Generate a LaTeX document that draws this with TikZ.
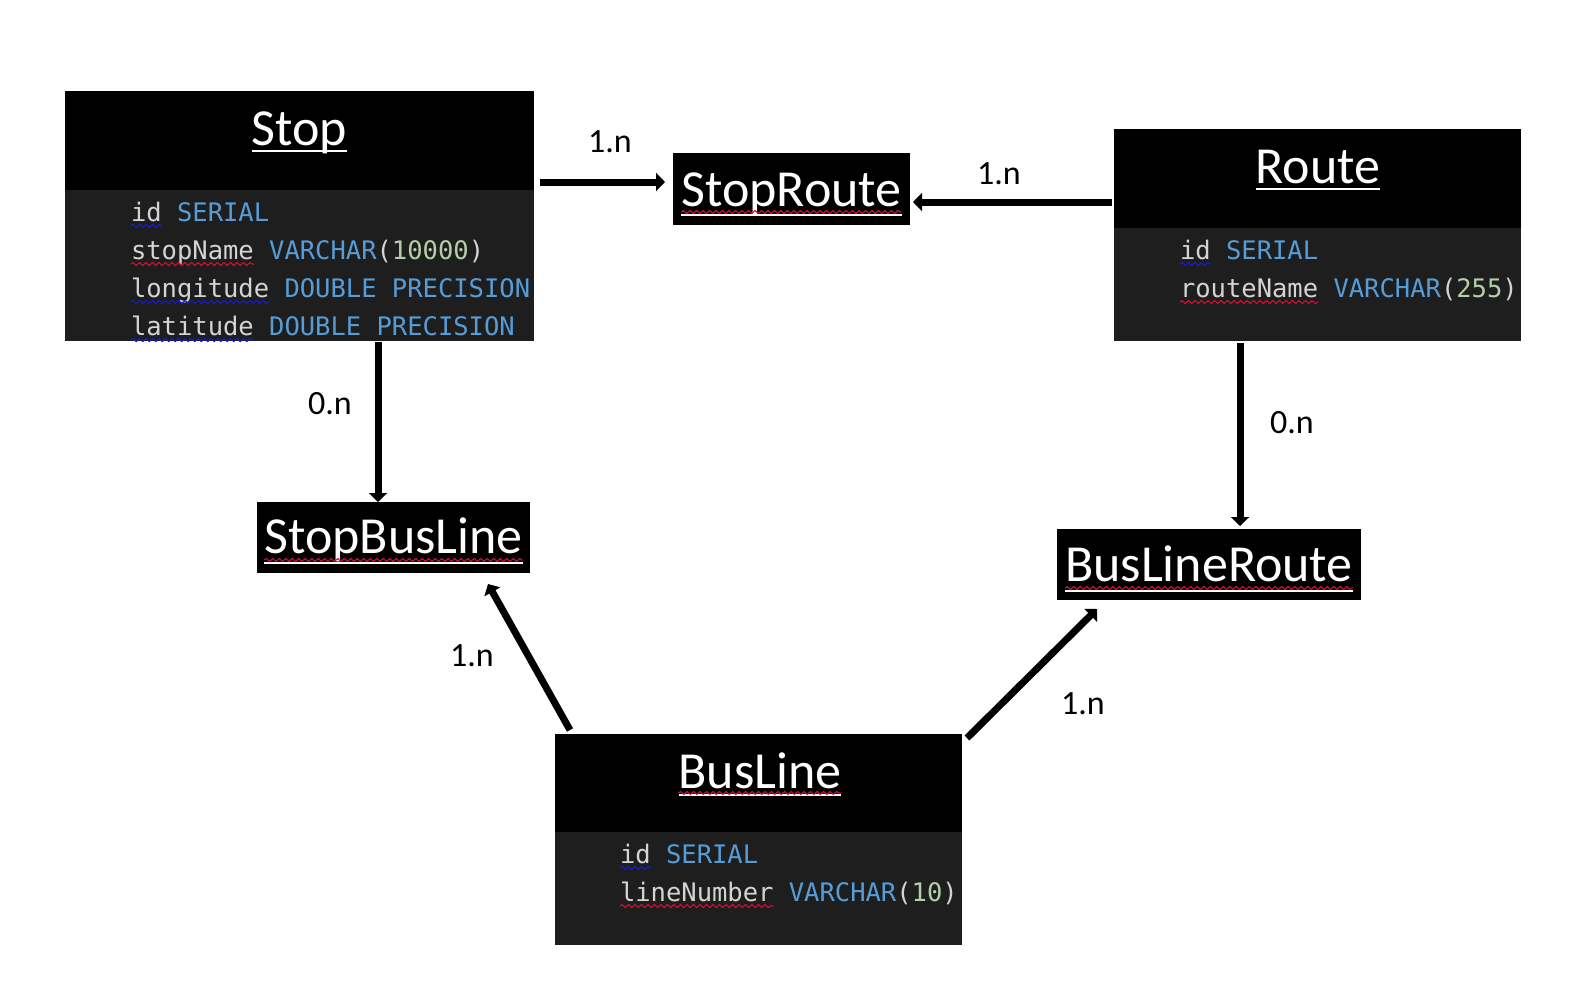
\documentclass[tikz,border=0pt]{standalone}
\usepackage{fontspec}
\setmainfont{Carlito}
\newfontfamily\monof{DejaVu Sans Mono}
\usetikzlibrary{arrows.meta,decorations.pathmorphing}
\definecolor{bodygray}{HTML}{1E1E1E}
\definecolor{fg}{HTML}{D4D4D4}
\definecolor{kw}{HTML}{569CD6}
\definecolor{num}{HTML}{B5CEA8}
\definecolor{sqblue}{HTML}{1A1AD0}
\definecolor{sqred}{HTML}{D0103A}
\tikzset{
  box/.style={fill=black, inner sep=0pt, outer sep=0pt},
  bodybox/.style={fill=bodygray, inner sep=0pt, outer sep=0pt},
  titletext/.style={anchor=base, inner sep=0pt, outer sep=0pt, text=white, font=\fontsize{52}{60}\selectfont},
  fname/.style={anchor=base west, inner sep=0pt, outer sep=0pt, text=fg, font=\monof\fontsize{25.5}{30}\selectfont},
  ftype/.style={fname, text=kw},
  sqb/.style={draw=sqblue, line width=1.1pt, decorate, decoration={snake, amplitude=1.5pt, segment length=6.5pt}},
  sqr/.style={draw=sqred, line width=1.1pt, decorate, decoration={snake, amplitude=1.5pt, segment length=6.5pt}},
  uline/.style={draw=white, line width=2.5pt},
  conn/.style={line width=7pt, -{Triangle[length=9pt,width=18pt]}},
  lbl/.style={inner sep=0pt, font=\fontsize{34}{40}\selectfont},
}
\begin{document}
\begin{tikzpicture}[x=1pt,y=-1pt]
\fill[white] (0,0) rectangle (1570,980);
\useasboundingbox (0,0) rectangle (1570,980);

% ---- Stop ----
\node[box, minimum width=469pt, minimum height=99pt] (stophead) at (299.5,140.5) {};
\node[bodybox, minimum width=469pt, minimum height=151pt] (stopbody) at (299.5,265.5) {};
\node[titletext] (stopt) at (299.5,145) {Stop};
\draw[uline] ([yshift=-6pt]stopt.base west) -- ([yshift=-6pt]stopt.base east);
\node[fname] (sf1) at (131,221) {id};
\node[ftype] at (sf1.base east) {\ SERIAL};
\node[fname] (sf2) at (131,259) {stopName};
\node[ftype] at (sf2.base east) {\ VARCHAR\textcolor{fg}{(}\textcolor{num}{10000}\textcolor{fg}{)}};
\node[fname] (sf3) at (131,297) {longitude};
\node[ftype] at (sf3.base east) {\ DOUBLE PRECISION};
\node[fname] (sf4) at (131,335) {latitude};
\node[ftype] at (sf4.base east) {\ DOUBLE PRECISION};
\draw[sqb] ([yshift=-5pt]sf1.base west) -- ([yshift=-5pt]sf1.base east);
\draw[sqr] ([yshift=-5pt]sf2.base west) -- ([yshift=-5pt]sf2.base east);
\draw[sqb] ([yshift=-5pt]sf3.base west) -- ([yshift=-5pt]sf3.base east);
\draw[sqb] ([yshift=-5pt]sf4.base west) -- ([yshift=-5pt]sf4.base east);

% ---- Route ----
\node[box, minimum width=407pt, minimum height=99pt] (routehead) at (1317.5,178.5) {};
\node[bodybox, minimum width=407pt, minimum height=113pt] (routebody) at (1317.5,284.5) {};
\node[titletext] (routet) at (1318,183) {Route};
\draw[uline] ([yshift=-6pt]routet.base west) -- ([yshift=-6pt]routet.base east);
\node[fname] (rf1) at (1180,259) {id};
\node[ftype] at (rf1.base east) {\ SERIAL};
\node[fname] (rf2) at (1180,297) {routeName};
\node[ftype] at (rf2.base east) {\ VARCHAR\textcolor{fg}{(}\textcolor{num}{255}\textcolor{fg}{)}};
\draw[sqb] ([yshift=-5pt]rf1.base west) -- ([yshift=-5pt]rf1.base east);
\draw[sqr] ([yshift=-5pt]rf2.base west) -- ([yshift=-5pt]rf2.base east);

% ---- BusLine ----
\node[box, minimum width=407pt, minimum height=98pt] (blhead) at (758.5,783) {};
\node[bodybox, minimum width=407pt, minimum height=113pt] (blbody) at (758.5,888.5) {};
\node[titletext] (blt) at (760,788) {BusLine};
\draw[uline, line width=1.5pt] ([yshift=-7pt]blt.base west) -- ([yshift=-7pt]blt.base east);
\draw[sqr] ([yshift=-5pt]blt.base west) -- ([yshift=-5pt]blt.base east);
\node[fname] (bf1) at (620,863) {id};
\node[ftype] at (bf1.base east) {\ SERIAL};
\node[fname] (bf2) at (620,901) {lineNumber};
\node[ftype] at (bf2.base east) {\ VARCHAR\textcolor{fg}{(}\textcolor{num}{10}\textcolor{fg}{)}};
\draw[sqb] ([yshift=-5pt]bf1.base west) -- ([yshift=-5pt]bf1.base east);
\draw[sqr] ([yshift=-5pt]bf2.base west) -- ([yshift=-5pt]bf2.base east);

% ---- link tables ----
\node[box, minimum width=237pt, minimum height=72pt] (sr) at (791.5,189) {};
\node[titletext] (srt) at (791.5,206) {StopRoute};
\draw[uline, line width=1.5pt] ([yshift=-9pt]srt.base west) -- ([yshift=-9pt]srt.base east);
\draw[sqr] ([yshift=-6pt]srt.base west) -- ([yshift=-6pt]srt.base east);

\node[box, minimum width=273pt, minimum height=71pt] (sbl) at (393.5,537.5) {};
\node[titletext] (sblt) at (393.5,553) {StopBusLine};
\draw[uline, line width=1.5pt] ([yshift=-10pt]sblt.base west) -- ([yshift=-10pt]sblt.base east);
\draw[sqr] ([yshift=-7pt]sblt.base west) -- ([yshift=-7pt]sblt.base east);

\node[box, minimum width=304pt, minimum height=71pt] (blr) at (1209,564.5) {};
\node[titletext] (blrt) at (1209,581) {BusLineRoute};
\draw[uline, line width=1.5pt] ([yshift=-10pt]blrt.base west) -- ([yshift=-10pt]blrt.base east);
\draw[sqr] ([yshift=-7pt]blrt.base west) -- ([yshift=-7pt]blrt.base east);

% ---- connectors ----
\draw[conn] ([shift={(6pt,-41.5pt)}]stophead.east) -- ([shift={(-8pt,7pt)}]sr.west);
\draw[conn] ([shift={(-2pt,-23.5pt)}]routehead.west) -- ([shift={(3pt,-13pt)}]sr.east);
\draw[conn] ([shift={(78.5pt,-1pt)}]stopbody.south) -- ([shift={(-15.5pt,0pt)}]sbl.north);
\draw[conn] ([shift={(-77.5pt,-2pt)}]routebody.south) -- ([shift={(31pt,3pt)}]blr.north);
\draw[conn] ([shift={(15pt,4pt)}]blhead.north west) -- ([shift={(-42pt,-11pt)}]sbl.south east);
\draw[conn] ([shift={(5pt,-4pt)}]blhead.north east) -- ([shift={(40pt,-9pt)}]blr.south west);

% ---- cardinalities ----
\node[lbl] (l1) at (610,142) {1.n};
\node[lbl] (l2) at (999,174) {1.n};
\node[lbl] (l3) at (330,404) {0.n};
\node[lbl] (l4) at (1292,423) {0.n};
\node[lbl] (l5) at (472,656) {1.n};
\node[lbl] (l6) at (1083,704) {1.n};
\end{tikzpicture}
\end{document}
